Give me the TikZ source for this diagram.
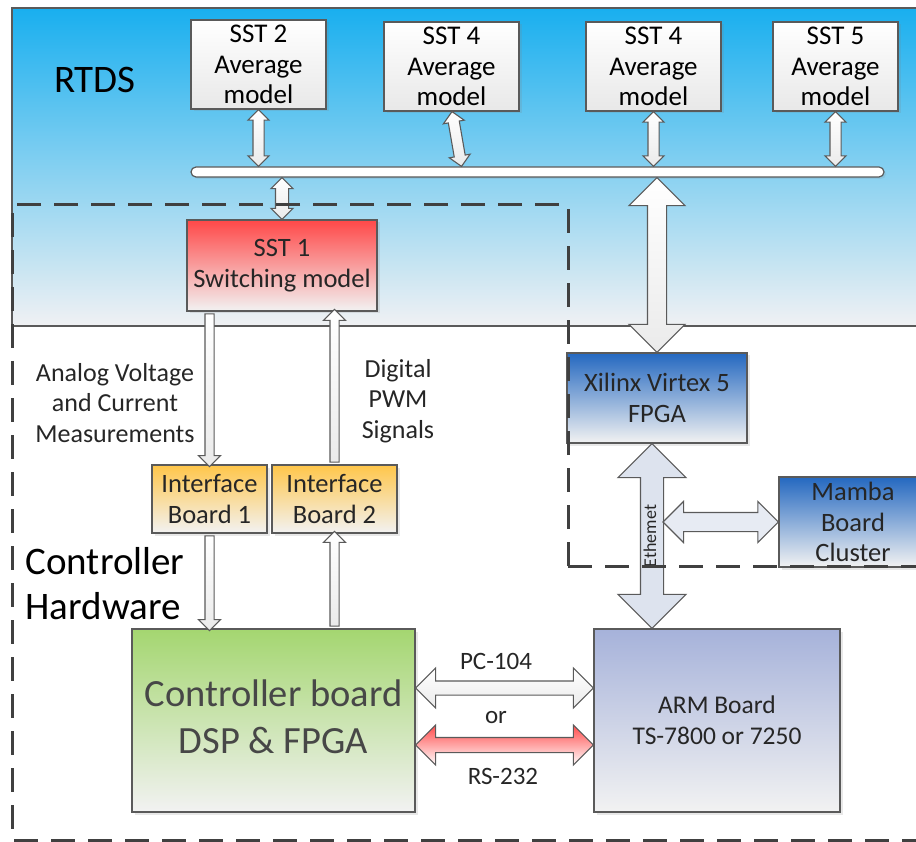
\documentclass[tikz,border=0pt]{standalone}
\usepackage{fontspec}
\setmainfont{Carlito}
\usetikzlibrary{shapes.arrows,shadows,calc}

\definecolor{edge}{HTML}{5A5A5A}
\definecolor{ink}{HTML}{262626}
\definecolor{paper}{HTML}{F2F2F2}
\definecolor{rtdsblue}{HTML}{19AFEF}
\definecolor{rtdsfade}{HTML}{F0F1F3}
\definecolor{sstred}{HTML}{FF4848}
\definecolor{ifaceorange}{HTML}{FFC64A}
\definecolor{fpgablue}{HTML}{2468C0}
\definecolor{ctrlgreen}{HTML}{A4D670}
\definecolor{armblue}{HTML}{A6B2DA}
\definecolor{ethfill}{HTML}{DDE3EE}
\definecolor{linkred}{HTML}{FF4C4C}
\definecolor{dashgray}{HTML}{404040}

% block arrow node stretched between two points: #1 style, #2 start, #3 end
\newcommand\blockarrow[3]{%
  \path let \p1=(#2), \p2=(#3),
    \n1={veclen(\x2-\x1,\y2-\y1)},
    \n2={atan2(\y2-\y1,\x2-\x1)} in
    node[#1, minimum height=\n1, rotate=\n2] at ($(\p1)!0.5!(\p2)$) {};}

\tikzset{
  box/.style={draw=edge, line width=1.2pt, rectangle, inner sep=2pt,
    align=center, text=ink, font={\fontsize{26.5}{30.5}\selectfont},
    drop shadow={opacity=0.18, shadow xshift=2.5pt, shadow yshift=-2.5pt}},
  grad/.style={top color=#1, bottom color=paper},
  topbox/.style={box, text=black, top color=white, bottom color=black!9,
    minimum width=135pt, minimum height=89pt, font={\fontsize{27}{30.5}\selectfont}},
  % #1 half shaft width, #2 head overhang on each side
  darrow/.style 2 args={double arrow, draw=edge, line width=1.1pt, inner xsep=0pt,
    inner ysep=#1pt, double arrow head extend=#2pt, double arrow tip angle=90},
  sarrow/.style 2 args={single arrow, draw=edge, line width=1.1pt, inner xsep=0pt,
    inner ysep=#1pt, single arrow head extend=#2pt, single arrow tip angle=90},
  whitefill/.style={top color=white, bottom color=black!8},
  lbl/.style={align=center, text=ink, font={\fontsize{26}{30.5}\selectfont}},
}

\begin{document}
\begin{tikzpicture}[x=1pt, y=-1pt]
\useasboundingbox (0,0) rectangle (916,842);

% RTDS area
\fill[top color=rtdsblue, bottom color=rtdsfade] (12,8) rectangle (930,326);
\draw[edge, line width=1.2pt] (930,8) -- (12,8) -- (12,326) -- (930,326);
\node[font={\fontsize{39}{40}\selectfont}, text=black] (rtds) at (95,80) {RTDS};

% average models
\node[topbox] (sst2) at (258.5,64.5) {SST 2\\Average\\model};
\node[topbox] (sst4a) at (451.5,66.5) {SST 4\\Average\\model};
\node[topbox] (sst4b) at (653.5,66.5) {SST 4\\Average\\model};
\node[topbox, minimum width=125pt] (sst5) at (835.5,66.5) {SST 5\\Average\\model};

% common bus
\node[draw=edge, line width=1.2pt, fill=white, rounded corners=5pt, inner sep=0pt,
  minimum width=693pt, minimum height=10pt,
  drop shadow={opacity=0.15, shadow xshift=2pt, shadow yshift=-2pt}] (bus) at (537.5,172) {};

% switching model
\node[box, grad=sstred, minimum width=190pt, minimum height=91pt] (sst1) at (282,265.5)
  {SST 1\\Switching model};

% FPGA side
\node[box, grad=fpgablue, minimum width=180pt, minimum height=90pt] (xilinx) at (657,398)
  {Xilinx Virtex 5\\FPGA};
\node[box, grad=fpgablue, minimum width=148pt, minimum height=90pt] (mamba) at (853,522)
  {Mamba\\Board\\Cluster};

% interface boards
\node[box, grad=ifaceorange, minimum width=115pt, minimum height=68pt] (ib1) at (209.5,499)
  {Interface\\Board 1};
\node[box, grad=ifaceorange, minimum width=125pt, minimum height=68pt] (ib2) at (334.5,499)
  {Interface\\Board 2};

% controller and ARM boards
\node[box, grad=ctrlgreen, minimum width=283pt, minimum height=183pt,
  font={\fontsize{38.5}{47}\selectfont}, text=ink!85!white] (ctrl) at (273.5,720.5)
  {Controller board\\DSP \& FPGA\\[-39pt]\mbox{}};
\node[box, grad=armblue, minimum width=246pt, minimum height=183pt,
  font={\fontsize{25.5}{31}\selectfont}] (arm) at (717,720.5)
  {ARM Board\\TS-7800 or 7250};

% links inside the RTDS
\blockarrow{darrow={5}{5}, whitefill, name=aSSTb}{sst2.south}{sst2.south |- bus.north}
\blockarrow{darrow={5}{5}, whitefill, name=aSSTc}{$(sst4a.south)+(0.5,0)$}{$(sst4a.south |- bus.north)+(10,0)$}
\blockarrow{darrow={5}{5}, whitefill, name=aSSTd}{sst4b.south}{sst4b.south |- bus.north}
\blockarrow{darrow={5}{5}, whitefill, name=aSSTe}{sst5.south}{sst5.south |- bus.north}
\blockarrow{darrow={6}{4.5}, whitefill, name=aSSTa}{sst1.north |- bus.south}{sst1.north}
\blockarrow{darrow={9}{18.5}, whitefill, name=aRTDS}{xilinx.north |- bus.south}{xilinx.north}

% Ethernet link
\coordinate (ethtop) at ($(xilinx.south)+(-5,0)$);
\coordinate (ethbot) at (ethtop |- arm.north);
\blockarrow{darrow={11}{22.5}, fill=ethfill, name=aEth}{ethtop}{ethbot}
\coordinate (ethR) at ($(ethtop |- mamba.west)+(11,0)$);
\blockarrow{darrow={9}{11}, fill=ethfill!70!white, name=aMamba}{ethR}{mamba.west}
\node[rotate=90, font={\fontsize{18}{18}\selectfont}, text=ink] (ethlbl)
  at ($(ethtop)!0.5!(ethbot)+(-2,0)$) {Ethemet};

% measurement and PWM signals
\blockarrow{sarrow={4}{6.5}, whitefill, name=aMeas}{ib1.north |- sst1.south}{ib1.north}
\blockarrow{sarrow={4}{6.5}, whitefill, name=aPWM}{ib2.north}{ib2.north |- sst1.south}
\blockarrow{sarrow={4}{6.5}, whitefill, name=aMeasB}{ib1.south}{ib1.south |- ctrl.north}
\blockarrow{sarrow={4}{6.5}, whitefill, name=aPWMB}{ib2.south |- ctrl.north}{ib2.south}

\node[lbl] (measlbl) at (115,403) {Analog Voltage\\and Current\\Measurements};
\node[lbl] (pwmlbl) at (398,401) {Digital\\PWM\\Signals};

% controller to ARM links
\coordinate (pcL) at ($(ctrl.east)+(0,-32.5)$);
\coordinate (pcR) at (pcL -| arm.west);
\blockarrow{darrow={6.5}{13}, whitefill, name=aPC}{pcL}{pcR}
\coordinate (rsL) at ($(ctrl.east)+(0,24.5)$);
\coordinate (rsR) at (rsL -| arm.west);
\blockarrow{darrow={7}{12.5}, top color=linkred, bottom color=white, name=aRS}{rsL}{rsR}
\node[lbl, font={\fontsize{25}{28}\selectfont}] (pclbl) at (496,661) {PC-104};
\node[lbl, font={\fontsize{25}{28}\selectfont}] (orlbl) at (496,718) {or};
\node[lbl, font={\fontsize{25}{28}\selectfont}] (rslbl) at (503,776) {RS-232};

% controller hardware boundary
\draw[dashgray, line width=3pt, dash pattern=on 24pt off 13pt]
  (568,566) -- (568,205) -- (12,205) -- (12,840) -- (930,840);
\draw[dashgray, line width=3pt, dash pattern=on 24pt off 13pt]
  (568,566) -- (930,566);
\node[anchor=west, align=left, text=black, font={\fontsize{39}{45}\selectfont}] (hwlbl)
  at (22,583.5) {Controller\\Hardware};
\end{tikzpicture}
\end{document}
